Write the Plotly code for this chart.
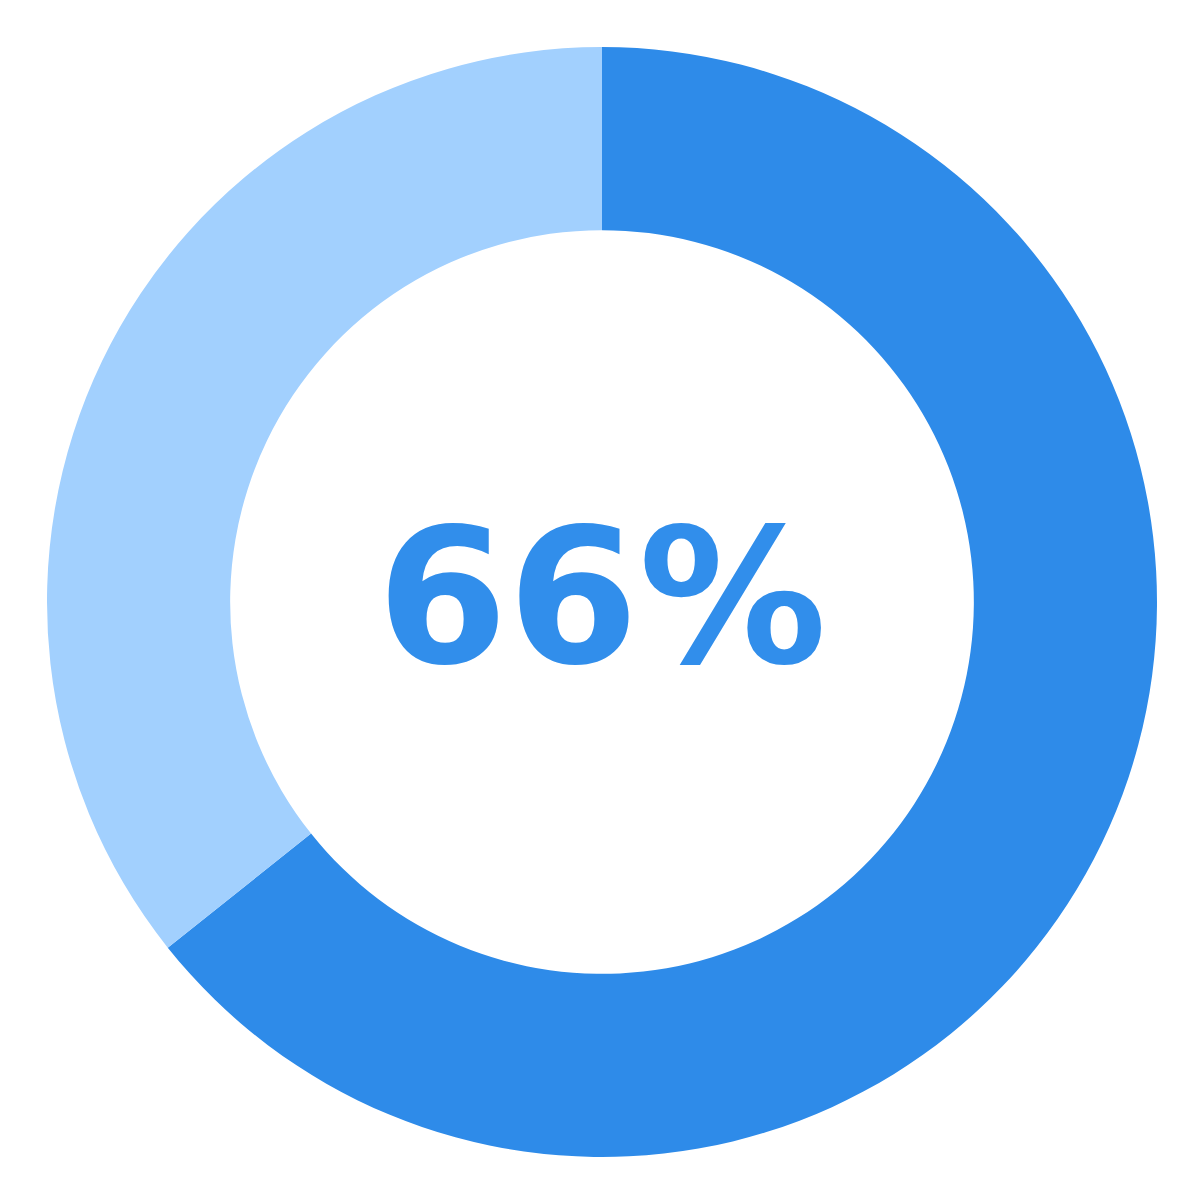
import plotly.graph_objects as go

# Share of the ring and the label in the middle
labels = ["Done", "Remaining"]
values = [64.3, 35.7]
colors = ["#2E8BE9", "#A2D0FE"]
center_text = "66%"

fig = go.Figure(data=[go.Pie(
    labels=labels,
    values=values,
    hole=0.67,
    sort=False,
    direction="clockwise",
    rotation=0,
    textinfo="none",
    hoverinfo="label+percent",
    marker=dict(colors=colors, line=dict(width=0)),
    showlegend=False)])

fig.add_annotation(
    text=center_text,
    x=0.5, y=0.505, xref="paper", yref="paper",
    showarrow=False,
    font=dict(family="DejaVu Sans", size=188, color="#318EEB", weight="bold"))

fig.update_layout(
    width=1200, height=1200,
    margin=dict(l=39, r=51, t=39, b=51),
    paper_bgcolor="white",
    plot_bgcolor="white")

fig.write_html("out.html")
